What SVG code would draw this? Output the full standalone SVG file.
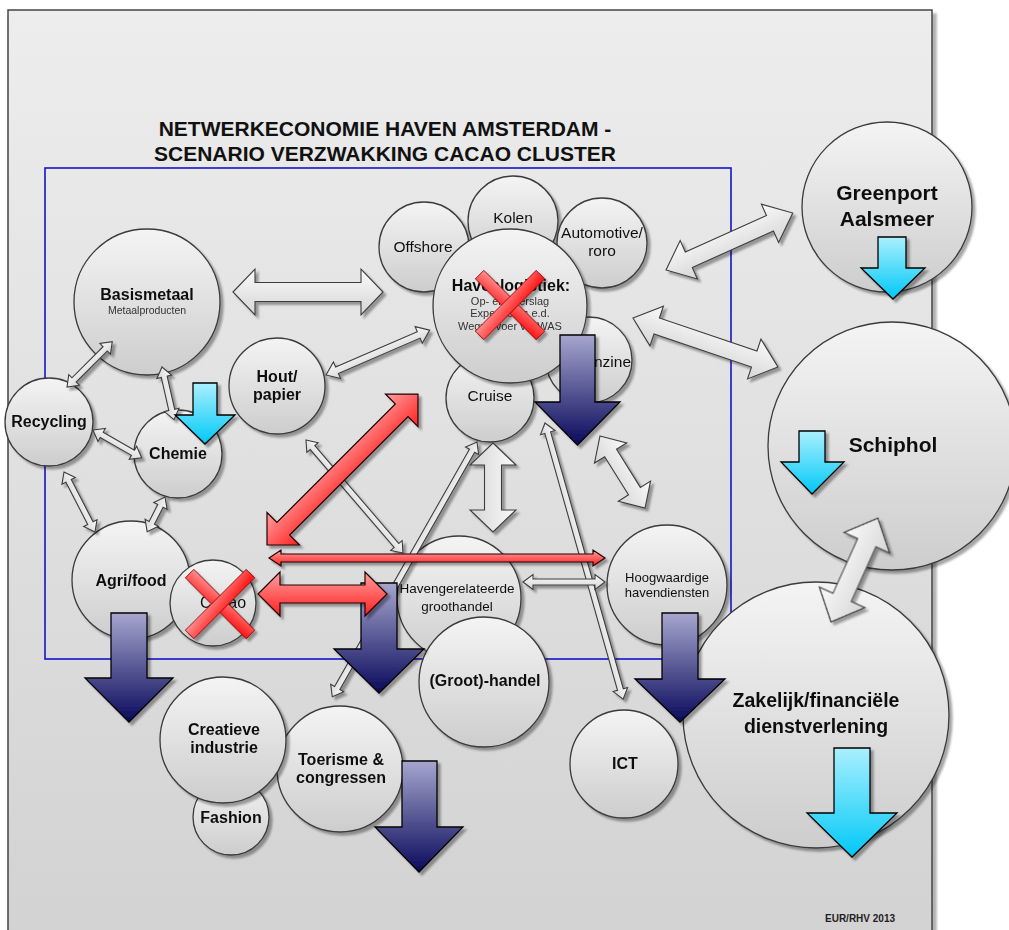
<svg xmlns="http://www.w3.org/2000/svg" width="1009" height="930" viewBox="0 0 1009 930">
<defs>
<linearGradient id="bg" x1="0" y1="0" x2="0" y2="1"><stop offset="0" stop-color="#ededed"/><stop offset="1" stop-color="#d2d2d2"/></linearGradient>
<linearGradient id="cg" x1="0" y1="0" x2="0" y2="1"><stop offset="0" stop-color="#f4f4f4"/><stop offset="1" stop-color="#cdcdcd"/></linearGradient>
<linearGradient id="wg" x1="0" y1="0" x2="0" y2="1"><stop offset="0" stop-color="#fafafa"/><stop offset="1" stop-color="#d6d6d6"/></linearGradient>
<linearGradient id="rg" x1="0" y1="0" x2="0" y2="1"><stop offset="0" stop-color="#ffa0a0"/><stop offset="1" stop-color="#ff2020"/></linearGradient>
<linearGradient id="xg" x1="0" y1="0" x2="1" y2="1"><stop offset="0" stop-color="#ff9090"/><stop offset="1" stop-color="#ff1010"/></linearGradient>
<linearGradient id="dg" x1="0" y1="0" x2="0" y2="1"><stop offset="0" stop-color="#a6a6cf"/><stop offset="1" stop-color="#0a0a5c"/></linearGradient>
<linearGradient id="cyg" x1="0" y1="0" x2="0" y2="1"><stop offset="0" stop-color="#aaf0ff"/><stop offset="1" stop-color="#00c8f6"/></linearGradient>
<filter id="sh" x="-20%" y="-20%" width="150%" height="150%"><feDropShadow dx="3" dy="3" stdDeviation="1.2" flood-color="#000" flood-opacity="0.35"/></filter>
<filter id="fs" x="-5%" y="-5%" width="110%" height="110%"><feDropShadow dx="4" dy="4" stdDeviation="0.8" flood-color="#000" flood-opacity="0.3"/></filter>
<style>
.n circle{fill:url(#cg);stroke:#3a3a3a;stroke-width:1.3}
.n{filter:url(#sh)}
.t{font-family:"Liberation Sans",Arial,sans-serif;fill:#111;text-anchor:middle}
.b{font-weight:bold}
.s16{font-size:16px}
.s15{font-size:15.5px}
.sub{font-size:11px;fill:#333}
.wa{fill:url(#wg);stroke:#3c3c3c;stroke-width:1.1}
.ra{fill:url(#rg);stroke:#220000;stroke-width:1.2}
.da{fill:url(#dg);stroke:#000;stroke-width:1.3}
.ca{fill:url(#cyg);stroke:#000;stroke-width:1.3}
.x{fill:url(#xg);stroke:#8a0000;stroke-width:0.8}
.sg{filter:url(#sh)}
</style>
</defs>
<rect x="0" y="0" width="1009" height="930" fill="#fff"/>
<rect x="8" y="10" width="924" height="940" fill="url(#bg)" stroke="#444" stroke-width="1.5" filter="url(#fs)"/>
<rect x="45" y="168" width="686" height="491" fill="none" stroke="#1515c8" stroke-width="1.6"/>
<g id="title" class="t b" style="font-size:21px">
<text x="385" y="136">NETWERKECONOMIE HAVEN AMSTERDAM -</text>
<text x="385" y="161">SCENARIO VERZWAKKING CACAO CLUSTER</text>
</g>
<g id="basismetaal" class="n"><circle cx="147" cy="302" r="73"/><text class="t b s16" x="147" y="300">Basismetaal</text><text class="t sub" x="147" y="314" style="font-size:10.5px">Metaalproducten</text></g>
<g id="recycling" class="n"><circle cx="49" cy="422" r="44"/><text class="t b s16" x="49" y="427">Recycling</text></g>
<g id="chemie" class="n"><circle cx="178" cy="454" r="44"/><text class="t b s16" x="178" y="459">Chemie</text></g>
<g id="hout" class="n"><circle cx="277" cy="386" r="48"/><text class="t b s16" x="277" y="382">Hout/</text><text class="t b s16" x="277" y="400">papier</text></g>
<g id="offshore" class="n"><circle cx="424" cy="247" r="45"/><text class="t s15" x="423" y="252">Offshore</text></g>
<g id="kolen" class="n"><circle cx="513" cy="221" r="45"/><text class="t s15" x="513" y="223">Kolen</text></g>
<g id="automotive" class="n"><circle cx="602" cy="243" r="45"/><text class="t s15" x="602" y="238">Automotive/</text><text class="t s15" x="602" y="256">roro</text></g>
<g id="benzine" class="n"><circle cx="589" cy="360" r="43"/><text class="t s15" x="603" y="367">Benzine</text></g>
<g id="cruise" class="n"><circle cx="490" cy="398" r="44"/><text class="t s15" x="490" y="401">Cruise</text></g>
<g id="havenlogistiek" class="n"><circle cx="510" cy="306" r="77"/><text class="t b s16" x="511" y="291">Havenlogistiek:</text><text class="t sub" x="510" y="305">Op- en overslag</text><text class="t sub" x="510" y="317">Expediteurs e.d.</text><text class="t sub" x="510" y="330">Wegvervoer via WAS</text></g>
<g id="agrifood" class="n"><circle cx="131" cy="580" r="59"/><text class="t b s16" x="131" y="586">Agri/food</text></g>
<g id="cacao" class="n"><circle cx="213" cy="603" r="43"/><text class="t s16" x="223" y="608">Cacao</text></g>
<g id="havengerelateerde" class="n"><circle cx="459" cy="598" r="62"/><text class="t" style="font-size:13.5px" x="457" y="593">Havengerelateerde</text><text class="t" style="font-size:13.5px" x="457" y="611">groothandel</text></g>
<g id="groothandel" class="n"><circle cx="484" cy="682" r="65"/><text class="t b s16" x="485" y="686">(Groot)-handel</text></g>
<g id="hoogwaardige" class="n"><circle cx="667" cy="585" r="60"/><text class="t" style="font-size:13px" x="667" y="582">Hoogwaardige</text><text class="t" style="font-size:13px" x="667" y="597">havendiensten</text></g>
<g id="fashion" class="n"><circle cx="231" cy="817" r="38"/><text class="t b s16" x="231" y="823">Fashion</text></g>
<g id="toerisme" class="n"><circle cx="340" cy="769" r="63"/><text class="t b s16" x="341" y="765">Toerisme &amp;</text><text class="t b s16" x="341" y="783">congressen</text></g>
<g id="creatieve" class="n"><circle cx="223" cy="740" r="63"/><text class="t b s16" x="224" y="735">Creatieve</text><text class="t b s16" x="224" y="753">industrie</text></g>
<g id="ict" class="n"><circle cx="624" cy="764" r="54"/><text class="t b s16" x="625" y="769">ICT</text></g>
<g id="greenport" class="n"><circle cx="887" cy="207" r="85"/><text class="t b" style="font-size:21px" x="887" y="200">Greenport</text><text class="t b" style="font-size:21px" x="887" y="226">Aalsmeer</text></g>
<g id="schiphol" class="n"><circle cx="892" cy="446" r="124"/><text class="t b" style="font-size:21px" x="893" y="452">Schiphol</text></g>
<g id="zakelijk" class="n"><circle cx="816" cy="715" r="133"/><text class="t b" style="font-size:19.5px" x="816" y="707">Zakelijk/financiële</text><text class="t b" style="font-size:19.5px" x="816" y="733">dienstverlening</text></g>
<g id="connectors">
<g class="sg">
<path class="wa" transform="translate(233 292)" d="M0,0 L22,-23 L22,-9.5 L128,-9.5 L128,-23 L150,0 L128,23 L128,9.5 L22,9.5 L22,23 Z"/>
<path class="wa" transform="translate(326 375) rotate(-23.4)" d="M0,0 L12,-9 L12,-3.5 L101,-3.5 L101,-9 L113,0 L101,9 L101,3.5 L12,3.5 L12,9 Z"/>
<path class="wa" transform="translate(666 270) rotate(-24.2)" d="M0,0 L25,-21 L25,-8.5 L114,-8.5 L114,-21 L139,0 L114,21 L114,8.5 L25,8.5 L25,21 Z"/>
<path class="wa" transform="translate(633 318) rotate(18.7)" d="M0,0 L25,-21 L25,-8.5 L128,-8.5 L128,-21 L153,0 L128,21 L128,8.5 L25,8.5 L25,21 Z"/>
<path class="wa" transform="translate(831 622) rotate(-65.7)" d="M0,0 L27,-25 L27,-10 L87,-10 L87,-25 L114,0 L87,25 L87,10 L27,10 L27,25 Z"/>
<path class="wa" transform="translate(493 443) rotate(90)" d="M0,0 L22,-23 L22,-8.5 L67,-8.5 L67,-23 L89,0 L67,23 L67,8.5 L22,8.5 L22,23 Z"/>
<path class="wa" transform="translate(600 436) rotate(58)" d="M0,0 L20,-19 L20,-7 L65,-7 L65,-19 L85,0 L65,19 L65,7 L20,7 L20,19 Z"/>
<path class="wa" transform="translate(67 387) rotate(-45)" d="M0,0 L10,-7.5 L10,-3 L54,-3 L54,-7.5 L64,0 L54,7.5 L54,3 L10,3 L10,7.5 Z"/>
<path class="wa" transform="translate(162 367) rotate(77.2)" d="M0,0 L10,-7.5 L10,-3 L44,-3 L44,-7.5 L54,0 L44,7.5 L44,3 L10,3 L10,7.5 Z"/>
<path class="wa" transform="translate(93 430) rotate(29.7)" d="M0,0 L10,-7.5 L10,-3 L46,-3 L46,-7.5 L56,0 L46,7.5 L46,3 L10,3 L10,7.5 Z"/>
<path class="wa" transform="translate(64 472) rotate(62.7)" d="M0,0 L10,-7.5 L10,-3 L57.5,-3 L57.5,-7.5 L67.5,0 L57.5,7.5 L57.5,3 L10,3 L10,7.5 Z"/>
<path class="wa" transform="translate(165 497) rotate(117.2)" d="M0,0 L10,-7.5 L10,-3 L29,-3 L29,-7.5 L39,0 L29,7.5 L29,3 L10,3 L10,7.5 Z"/>
<path class="wa" transform="translate(306 440) rotate(49.4)" d="M0,0 L10,-7.5 L10,-3 L139,-3 L139,-7.5 L149,0 L139,7.5 L139,3 L10,3 L10,7.5 Z"/>
<path class="wa" transform="translate(477 442) rotate(119.6)" d="M0,0 L10,-7.5 L10,-3 L283,-3 L283,-7.5 L293,0 L283,7.5 L283,3 L10,3 L10,7.5 Z"/>
<path class="wa" transform="translate(545 423) rotate(74.2)" d="M0,0 L10,-7.5 L10,-3 L277,-3 L277,-7.5 L287,0 L277,7.5 L277,3 L10,3 L10,7.5 Z"/>
<path class="wa" transform="translate(523 582)" d="M0,0 L10,-7.5 L10,-3 L72,-3 L72,-7.5 L82,0 L72,7.5 L72,3 L10,3 L10,7.5 Z"/>
</g>
</g>
<g id="decline" class="sg">
<path class="da" d="M560,335 H595 V402 H620 L577.5,445 L535,402 H560 Z"/>
<path class="da" d="M111,613 H147 V678 H173 L129,722 L85,678 H111 Z"/>
<path class="da" d="M361,583 H397 V649 H424 L379,693 L334,649 H361 Z"/>
<path class="da" d="M662,613 H698 V679 H725 L680,722 L635,679 H662 Z"/>
<path class="da" d="M402,761 H437 V827 H463 L419,872 L375,827 H402 Z"/>
<path class="ca" d="M193,383 H217 V415 H235 L205,444 L175,415 H193 Z"/>
<path class="ca" d="M878,237 H906 V268 H925 L893,299 L861,268 H878 Z"/>
<path class="ca" d="M799,431 H825 V462 H844 L812,494 L781,462 H799 Z"/>
<path class="ca" d="M834,748 H870 V813 H897 L852,857 L807,813 H834 Z"/>
</g>
<g id="red-connectors" class="sg">
<path class="ra" transform="translate(267 545) rotate(-45)" d="M0,0 L23,-23 L23,-9 L190.5,-9 L190.5,-23 L213.5,0 L190.5,23 L190.5,9 L23,9 L23,23 Z"/>
<path class="ra" transform="translate(269 558)" d="M0,0 L12,-8 L12,-4 L324,-4 L324,-8 L336,0 L324,8 L324,4 L12,4 L12,8 Z"/>
<path class="ra" transform="translate(258 594)" d="M0,0 L22,-22 L22,-9 L107,-9 L107,-22 L129,0 L107,22 L107,9 L22,9 L22,22 Z"/>
</g>
<g id="crosses" class="sg">
<rect class="x" x="-43" y="-6" width="86" height="12" transform="translate(510 305) rotate(45)"/>
<rect class="x" x="-43" y="-6" width="86" height="12" transform="translate(510 305) rotate(-45)"/>
<rect class="x" x="-43" y="-6" width="86" height="12" transform="translate(220 604) rotate(45)"/>
<rect class="x" x="-43" y="-6" width="86" height="12" transform="translate(220 604) rotate(-45)"/>
</g>
<text class="t b" x="825" y="922" style="font-size:10px;text-anchor:start;fill:#222">EUR/RHV 2013</text>
</svg>
